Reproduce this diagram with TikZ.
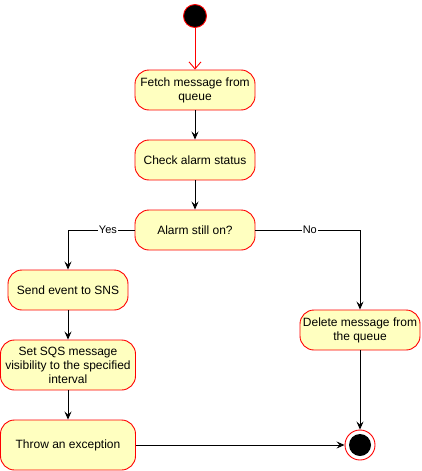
\documentclass[tikz,border=0pt]{standalone}
\usepackage{fontspec}
\setmainfont{Liberation Sans}
\usetikzlibrary{arrows.meta}

\definecolor{actfill}{HTML}{FFFFC0}
\definecolor{actline}{HTML}{FF0000}

\tikzset{
	activity/.style={draw=actline, fill=actfill, line width=0.9pt, rounded corners=14pt,
		minimum height=40pt, align=center, font=\fontsize{12}{14}\selectfont, inner sep=2pt},
	flow/.style={-{Stealth[length=8pt,width=7pt,inset=3pt]}, line width=0.9pt},
	guard/.style={fill=white, inner sep=1pt, font=\fontsize{11}{13}\selectfont}
}

\begin{document}
\begin{tikzpicture}[x=1pt, y=-1pt]
	\useasboundingbox (0,0) rectangle (421,471);
	% start and end states
	\node[circle, draw=actline, fill=black, line width=0.9pt, minimum size=23pt, inner sep=0pt] (start) at (195,16) {};
	\node[circle, draw=actline, fill=white, line width=0.9pt, minimum size=30pt, inner sep=0pt] (stop) at (360,445) {};
	\fill[black] (stop.center) circle (11);
	% activities
	\node[activity, minimum width=120pt] (fetch) at (195,90) {Fetch message from\\queue};
	\node[activity, minimum width=120pt] (check) at (195,160) {Check alarm status};
	\node[activity, minimum width=120pt] (alarm) at (195,230) {Alarm still on?};
	\node[activity, minimum width=120pt] (sns) at (68,290) {Send event to SNS};
	\node[activity, minimum width=120pt] (delete) at (360,330) {Delete message from\\the queue};
	\node[activity, minimum width=135pt, minimum height=50pt] (sqs) at (68,365) {Set SQS message\\visibility to the specified\\interval};
	\node[activity, minimum width=135pt, minimum height=50pt] (throw) at (68,445) {Throw an exception};
	% connectors
	\draw[-{Straight Barb[length=7pt,width=12pt]}, actline, line width=0.9pt] (start) -- (fetch);
	\draw[flow] (fetch) -- (check);
	\draw[flow] (check) -- (alarm);
	\draw[flow] (alarm.west) -| node[guard, pos=0.2] {Yes} (sns.north);
	\draw[flow] (alarm.east) -| node[guard, pos=0.26] {No} (delete.north);
	\draw[flow] (sns) -- (sqs);
	\draw[flow] (sqs) -- (throw);
	\draw[flow] (delete) -- (stop);
	\draw[flow] (throw) -- (stop);
\end{tikzpicture}
\end{document}
